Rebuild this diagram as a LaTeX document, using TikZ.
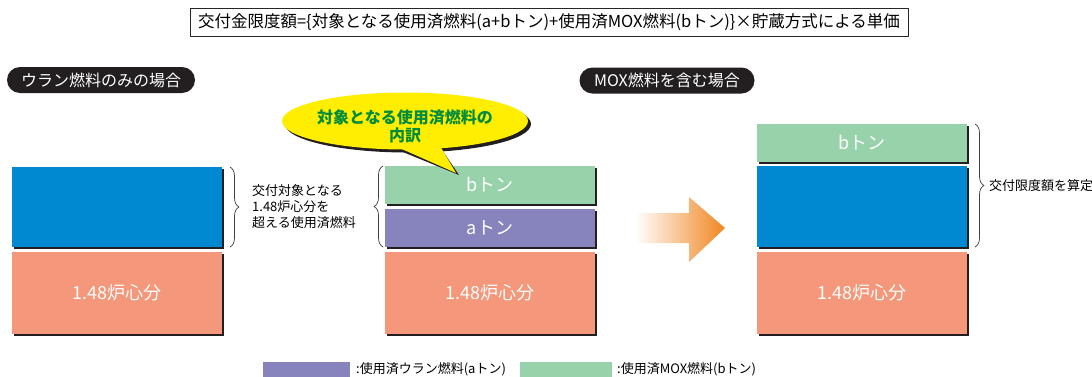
\documentclass[tikz,border=0pt]{standalone}
\usepackage{fontspec}
\setmainfont{Noto Sans CJK JP}
\usetikzlibrary{shapes.geometric,decorations.pathreplacing,shadows}
\definecolor{cblue}{RGB}{0,137,208}
\definecolor{csalmon}{RGB}{244,151,122}
\definecolor{cgreen}{RGB}{152,210,170}
\definecolor{cpurple}{RGB}{135,131,188}
\definecolor{cyellow}{RGB}{255,238,0}
\definecolor{corange}{RGB}{240,134,34}
\definecolor{cdark}{RGB}{35,31,32}
\definecolor{ctext}{RGB}{0,140,60}
\begin{document}
\begin{tikzpicture}[x=1pt, y=-1pt, line join=round, line cap=round,
	block/.style={inner sep=0pt, outer sep=0pt, minimum width=210pt, text=white,
		font=\fontsize{18}{20}\selectfont,
		drop shadow={shadow xshift=2pt, shadow yshift=-2pt, opacity=1, fill=cdark}},
	pill/.style={fill=cdark, text=white, rounded corners=13pt, minimum height=26pt,
		inner sep=0pt, font=\fontsize{16}{18}\selectfont},
	note/.style={font=\fontsize{13}{16}\selectfont, align=left, inner sep=0pt},
	bracedec/.style={decorate, decoration={brace, amplitude=9pt}, draw=black!75, line width=0.7pt}]
	\useasboundingbox (0,0) rectangle (1092,376);
	%%%%%%%%%%%%%%%%%%%%%%%%%%%%%%%%%
	\node[draw=black!85, line width=1pt, minimum width=718pt, minimum height=28pt, inner sep=0pt,
		font=\fontsize{16.5}{18}\selectfont] (T) at (549,22)
		{交付金限度額=\{対象となる使用済燃料(a+bトン)+使用済MOX燃料(bトン)\}×貯蔵方式による単価};
	\node[pill, minimum width=188pt] (P1) at (101,80) {ウラン燃料のみの場合};
	\node[pill, minimum width=175pt] (P2) at (667,80.5) {MOX燃料を含む場合};
	%%%%%%%%%%%%%%%%%%%%%%%%%%%%%%%%%
	\node[block, fill=cblue, minimum height=80pt] (U1) at (117,207) {};
	\node[block, fill=csalmon, minimum height=82pt] (U2) at (117,293) {1.48炉心分};
	\node[block, fill=cgreen, minimum height=38pt] (M1) at (490,185) {bトン};
	\node[block, fill=cpurple, minimum height=38pt] (M2) at (490,228) {aトン};
	\node[block, fill=csalmon, minimum height=82pt] (M3) at (490,293) {1.48炉心分};
	\node[block, fill=cgreen, minimum height=38pt] (R1) at (862,143) {bトン};
	\node[block, fill=cblue, minimum height=81pt] (R2) at (862,206.5) {};
	\node[block, fill=csalmon, minimum height=82pt] (R3) at (862,293) {1.48炉心分};
	%%%%%%%%%%%%%%%%%%%%%%%%%%%%%%%%%
	\coordinate (A) at (230,167);
	\coordinate (B) at (230,247);
	\coordinate (C) at (383,247);
	\coordinate (D) at (383,166);
	\coordinate (E) at (975,124);
	\coordinate (F) at (975,247);
	\draw[bracedec] (A) -- (B);
	\draw[bracedec] (C) -- (D);
	\draw[bracedec] (E) -- (F);
	\node[note, anchor=west] (N1) at (252,207) {交付対象となる\\1.48炉心分を\\超える使用済燃料};
	\node[note, anchor=west] (N2) at (989,185.5) {交付限度額を算定};
	%%%%%%%%%%%%%%%%%%%%%%%%%%%%%%%%%
	\fill[cdark] (408,124) ellipse (123 and 28.5);
	\fill[cdark] (398,150) -- (459,175) -- (442,150) -- cycle;
	\fill[cyellow] (395,146) -- (456,173) -- (440,146) -- cycle;
	\fill[cyellow] (405,121) ellipse (123 and 28.5);
	\node[align=center, text=ctext, font=\fontsize{16}{18}\selectfont\bfseries, inner sep=0pt]
		(S) at (405,126) {対象となる使用済燃料の\\内訳};
	%%%%%%%%%%%%%%%%%%%%%%%%%%%%%%%%%
	\shade[left color=white, right color=corange] (635,213) -- (689,213) -- (689,197) -- (725,228)
		-- (689,262) -- (689,243) -- (635,243) -- cycle;
	%%%%%%%%%%%%%%%%%%%%%%%%%%%%%%%%%
	\fill[cpurple] (263,362) rectangle (350,380);
	\node[note, anchor=west] (L1) at (356,369) {:使用済ウラン燃料(aトン)};
	\fill[cgreen] (520,362) rectangle (612,380);
	\node[note, anchor=west] (L2) at (617,369) {:使用済MOX燃料(bトン)};
	%%%%%%%%%%%%%%%%%%%%%%%%%%%%%%%%%
\end{tikzpicture}
\end{document}
